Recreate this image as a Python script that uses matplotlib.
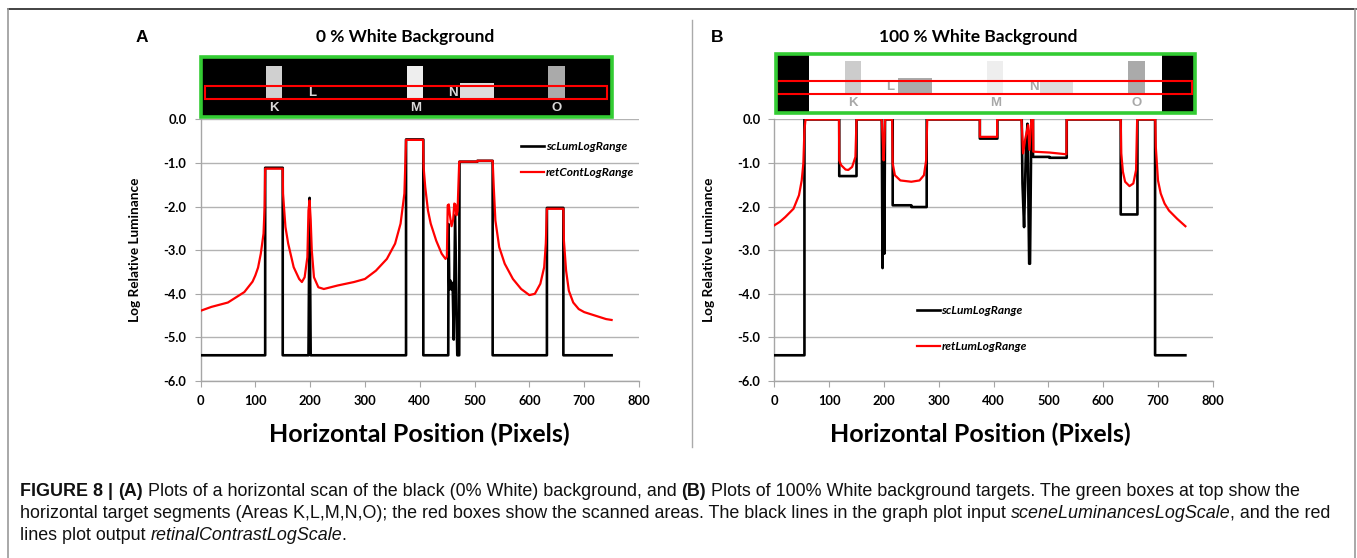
import matplotlib
matplotlib.use("Agg")
import matplotlib.pyplot as plt
from matplotlib.patches import Rectangle
from matplotlib.lines import Line2D

W, H = 1357, 558
plt.rcParams['font.family'] = ['Lato', 'DejaVu Sans']
CAPTION_FONT = ['Liberation Sans', 'DejaVu Sans']

# ---- data (x = pixel position, y = log relative luminance) ----
a_black = [(0, -5.41), (118, -5.41), (118, -1.11), (150, -1.11), (150, -5.41), (197, -5.41),
           (199, -1.80), (201, -5.41), (375, -5.41), (375, -0.46), (406.5, -0.46), (406.5, -5.41),
           (452, -5.41), (452.5, -2.4), (454, -3.9), (456, -3.7), (458, -3.9), (460, -3.75),
           (462, -5.05), (464.5, -2.2), (468.5, -5.41), (472, -5.41), (472.5, -0.97), (505, -0.97),
           (505, -0.95), (533, -0.95), (533, -5.41), (632, -5.41), (632, -2.03), (662, -2.03),
           (662, -5.41), (750, -5.41)]

a_red = [(0, -4.39), (20, -4.3), (50, -4.2), (80, -3.96), (95, -3.72), (100, -3.58), (105, -3.4),
         (110, -3.08), (115, -2.62), (117, -2.0), (118, -1.13), (150, -1.13), (150.5, -1.70),
         (155, -2.47), (160, -2.85), (170, -3.39), (180, -3.66), (185, -3.73), (190, -3.62),
         (195, -3.16), (197, -2.09), (199, -1.86), (201, -2.3), (203, -3.0), (207, -3.62),
         (215, -3.85), (225, -3.89), (250, -3.81), (280, -3.73), (300, -3.66), (320, -3.47),
         (340, -3.2), (355, -2.85), (365, -2.39), (372, -1.70), (375, -0.47), (406, -0.47),
         (407, -1.09), (410, -1.55), (415, -2.09), (420, -2.39), (430, -2.78), (440, -3.08),
         (447, -3.2), (449.5, -3.15), (451, -1.97), (453, -1.95), (455, -2.2), (458, -2.45),
         (461, -2.3), (463, -1.93), (465, -1.95), (467, -2.2), (469, -2.1), (472, -0.97),
         (505, -0.97), (505, -0.95), (533, -0.95), (535, -1.55), (538, -2.32), (545, -2.93),
         (555, -3.31), (570, -3.66), (585, -3.89), (600, -4.03), (610, -4.0), (620, -3.77),
         (627, -3.39), (630, -2.85), (632, -2.05), (662, -2.05), (663, -2.78), (667, -3.47),
         (672, -3.93), (680, -4.2), (690, -4.35), (700, -4.42), (720, -4.5), (740, -4.58),
         (750, -4.6)]

b_black = [(0, -5.41), (55, -5.41), (55, 0), (118.5, 0), (118.5, -1.30), (150, -1.30), (150, 0),
           (196, 0), (197.5, -3.41), (199, -0.9), (200.8, -3.08), (202, 0), (216, 0), (216, -1.97),
           (250, -1.97), (250, -2.01), (278, -2.01), (278, 0), (375, 0), (375, -0.44), (407, -0.44),
           (407, 0), (451.4, 0), (452.8, -1.47), (455.7, -2.47), (458.9, -0.78), (461.9, -0.1),
           (465, -3.31), (466.5, -3.31), (469, 0), (472, 0), (472, -0.86), (502, -0.86),
           (502, -0.88), (533.5, -0.88), (533.5, 0), (632, 0), (632, -2.18), (662.5, -2.18),
           (662.5, 0), (694.7, 0), (694.7, -5.41), (750, -5.41)]

b_red = [(0, -2.43), (10, -2.35), (20, -2.24), (35, -2.05), (45, -1.74), (50, -1.40), (53, -1.01),
         (55, -0.24), (57, 0), (118, 0), (118.5, -0.94), (122, -1.05), (130, -1.15), (135, -1.16),
         (142, -1.09), (148, -0.86), (150, 0), (196, 0), (198, -0.5), (199.5, -0.94), (201, -0.5),
         (202, 0), (215, 0), (216, -1.01), (220, -1.28), (230, -1.40), (250, -1.43), (265, -1.40),
         (273, -1.28), (277, -0.94), (279, 0), (375, 0), (375, -0.40), (406.5, -0.40), (406.5, 0),
         (451, 0), (454, -0.78), (457.5, -0.47), (463, -0.13), (465.5, -0.7), (469, 0), (472, 0),
         (472.5, -0.74), (502, -0.76), (533, -0.80), (533.5, 0), (632, 0), (633, -0.78),
         (636, -1.2), (640, -1.43), (648, -1.53), (655, -1.47), (660, -1.16), (662, 0), (695, 0),
         (696, -0.63), (700, -1.40), (705, -1.70), (712, -1.93), (720, -2.09), (735, -2.28),
         (750, -2.45)]

x_ticks = [0, 100, 200, 300, 400, 500, 600, 700, 800]
y_ticks = [0, -1, -2, -3, -4, -5, -6]
y_tick_labels = ['0.0', '-1.0', '-2.0', '-3.0', '-4.0', '-5.0', '-6.0']

# target strips: (x0, x1, top, bottom, grey)  top/bottom as fraction of strip height
a_targets = [(119.5, 149.3, 0.146, 0.692, '#d0d0d0'), (377, 406, 0.146, 0.692, '#eeeeee'),
             (473.5, 535.6, 0.44, 0.72, '#dddddd'), (634.7, 665, 0.146, 0.692, '#aaaaaa')]
a_letters = [('K', 134, 0.86), ('L', 203, 0.60), ('M', 393, 0.86), ('N', 461, 0.60), ('O', 650, 0.86)]
b_targets = [(129, 158, 0.12, 0.69, '#cccccc'), (226, 288, 0.41, 0.69, '#aaaaaa'),
             (387.6, 416.8, 0.12, 0.69, '#eeeeee'), (485, 545.6, 0.47, 0.69, '#dddddd'),
             (646, 676.5, 0.12, 0.69, '#aaaaaa')]
b_letters = [('K', 144, 0.83), ('L', 212, 0.57), ('M', 403, 0.83), ('N', 473, 0.57), ('O', 661, 0.83)]
b_black_blocks = [(2, 64), (708, 769)]


def fx(px):
    return px / W


def fy(py):
    return 1 - py / H


fig = plt.figure(figsize=(W / 100, H / 100), dpi=100)


def main_axes(left_px, title, letter, title_cx, letter_cx, black, red, names, leg_xy, spacing, xlab_cx):
    ax = fig.add_axes([fx(left_px), fy(381), 438.5 / W, 261.6 / H])
    xs, ys = zip(*black)
    ax.plot(xs, ys, color='black', lw=1.9, zorder=3, label=names[0])
    xs, ys = zip(*red)
    ax.plot(xs, ys, color='#ff0000', lw=1.6, zorder=4, label=names[1])
    ax.set_xlim(0, 800)
    ax.set_ylim(-6, 0)
    ax.set_xticks(x_ticks)
    ax.set_xticklabels([str(v) for v in x_ticks], fontweight='bold')
    ax.set_yticks(y_ticks)
    ax.set_yticklabels(y_tick_labels, fontweight='bold')
    ax.grid(axis='y', color='#b3b3b3', lw=1.0)
    ax.set_axisbelow(True)
    for s in ('top', 'right'):
        ax.spines[s].set_visible(False)
    for s in ('left', 'bottom'):
        ax.spines[s].set_color('#a6a6a6')
        ax.spines[s].set_linewidth(1.0)
    ax.tick_params(axis='both', color='#a6a6a6', length=4, labelsize=9.3, pad=6)
    ax.set_ylabel('Log Relative Luminance', fontsize=9.8, fontweight='bold')
    ax.yaxis.set_label_coords(-0.135, 0.5)
    ax.set_xlabel('Horizontal Position (Pixels)', fontsize=18, fontweight='bold')
    ax.xaxis.set_label_coords(xlab_cx, -0.2026)
    ax.xaxis.label.set_va('center')
    ax.legend(loc='upper left', bbox_to_anchor=leg_xy, frameon=False, borderpad=0, borderaxespad=0,
              handlelength=1.9, handletextpad=0.15, labelspacing=spacing,
              prop={'size': 8.6, 'weight': 'bold', 'style': 'italic'})
    fig.text(fx(title_cx), fy(37), title, ha='center', va='center', fontsize=12.5, fontweight='bold')
    fig.text(fx(letter_cx), fy(37), letter, ha='center', va='center', fontsize=12.5,
             fontweight='bold', family=['Liberation Sans', 'DejaVu Sans'])
    return ax


def strip_axes(left_px, top_px, bottom_px, box, bg, targets, letters, letter_color, blocks, scan):
    s = fig.add_axes([fx(left_px), fy(bottom_px), 438.5 / W, (bottom_px - top_px) / H])
    s.set_xlim(0, 800)
    s.set_ylim(1, 0)
    s.axis('off')
    s.add_patch(Rectangle((box[0], 0), box[1] - box[0], 1, facecolor=bg, edgecolor='none', zorder=1))
    for x0, x1 in blocks:
        s.add_patch(Rectangle((x0, 0), x1 - x0, 1, facecolor='black', edgecolor='none', zorder=2))
    for x0, x1, t, b, c in targets:
        s.add_patch(Rectangle((x0, t), x1 - x0, b - t, facecolor=c, edgecolor='none', zorder=2))
    for ch, x, y in letters:
        s.text(x, y, ch, ha='center', va='center', color=letter_color, fontsize=9.5,
               fontweight='bold', family=['Liberation Sans', 'DejaVu Sans'], zorder=4)
    s.add_patch(Rectangle((scan[0], scan[2]), scan[1] - scan[0], scan[3] - scan[2],
                          facecolor='none', edgecolor='#ff0000', lw=1.5, zorder=5))
    s.add_patch(Rectangle((box[0], 0), box[1] - box[0], 1, facecolor='none', edgecolor='#33cc33',
                          lw=2.6, zorder=6, clip_on=False))
    return s


main_axes(200.5, '0 % White Background', 'A', 405, 142, a_black, a_red,
          ['scLumLogRange', 'retContLogRange'], (0.732, 0.917), 1.25, 0.5)
main_axes(774.3, '100 % White Background', 'B', 978, 717, b_black, b_red,
          ['scLumLogRange', 'retLumLogRange'], (0.325, 0.29), 2.1, 0.47)
strip_axes(200.5, 57, 116.7, (1.5, 751), 'black', a_targets, a_letters, '#d8d8d8', [],
           (8.2, 742.2, 0.486, 0.698))
strip_axes(774.3, 54, 112.7, (2.5, 768), 'white', b_targets, b_letters, '#a8a8a8', b_black_blocks,
           (5.5, 761.7, 0.455, 0.68))

# frame and separator
fig.add_artist(Line2D([fx(8), fx(1356)], [fy(9), fy(9)], color='#222222', lw=1.2))
fig.add_artist(Line2D([fx(8), fx(8)], [fy(9), fy(558)], color='#999999', lw=1.2))
fig.add_artist(Line2D([fx(1355), fx(1355)], [fy(9), fy(558)], color='#999999', lw=1.2))
fig.add_artist(Line2D([fx(692), fx(692)], [fy(20), fy(447)], color='#aaaaaa', lw=1.0))

# caption with mixed styles
caption = [
    [("FIGURE 8 | ", 'bold', 'normal'), ("(A)", 'bold', 'normal'),
     (" Plots of a horizontal scan of the black (0% White) background, and ", 'normal', 'normal'),
     ("(B)", 'bold', 'normal'),
     (" Plots of 100% White background targets. The green boxes at top show the", 'normal', 'normal')],
    [("horizontal target segments (Areas K,L,M,N,O); the red boxes show the scanned areas. "
      "The black lines in the graph plot input ", 'normal', 'normal'),
     ("sceneLuminancesLogScale", 'normal', 'italic'), (", and the red", 'normal', 'normal')],
    [("lines plot output ", 'normal', 'normal'), ("retinalContrastLogScale", 'normal', 'italic'),
     (".", 'normal', 'normal')],
]
CAP_SIZE = 12.9
renderer = fig.canvas.get_renderer()


def measure(text, weight, style):
    t = fig.text(0, 0, text, fontsize=CAP_SIZE, fontweight=weight, fontstyle=style,
                 family=CAPTION_FONT)
    w = t.get_window_extent(renderer).width
    t.remove()
    return w


def run_width(text, weight, style):
    space = measure('a a', weight, style) - measure('aa', weight, style)
    core = text.strip(' ')
    lead = len(text) - len(text.lstrip(' '))
    trail = len(text) - len(text.rstrip(' '))
    w = measure(core, weight, style) + (lead + trail) * space
    if style == 'italic':
        w -= 1
    return w


for i, line in enumerate(caption):
    x = 20
    y = 491 + i * 22.5
    for text, weight, style in line:
        fig.text(fx(x), fy(y), text, fontsize=CAP_SIZE, fontweight=weight, fontstyle=style,
                 family=CAPTION_FONT, ha='left', va='center', color='#111111')
        x += run_width(text, weight, style)

fig.savefig('out.png', dpi=100)
